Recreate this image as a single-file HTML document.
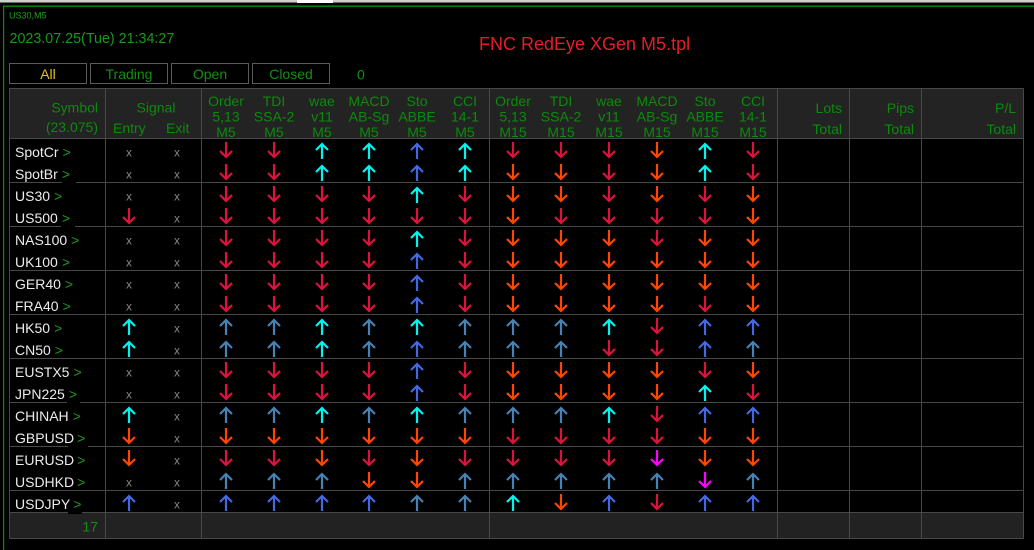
<!DOCTYPE html>
<html><head><meta charset="utf-8"><style>
html,body{margin:0;padding:0;background:#000;}
svg{display:block;font-family:"Liberation Sans",Arial,sans-serif;}
.a path{fill:none;stroke-width:2.2;stroke-linejoin:miter;}
.R{stroke:#dc143c}.O{stroke:#ff4500}.C{stroke:#00f5f0}.B{stroke:#4169e1}.S{stroke:#4682b4}.M{stroke:#ff00ff}
.hd{fill:#0b8a0b;font-size:14px}
.nm{fill:#ececec;font-size:14px}
.gt{fill:#1e9a1e}
.xx{fill:#858585;font-size:12px}
.bt{fill:#139013;font-size:14px}
</style></head><body>
<svg width="1034" height="550" viewBox="0 0 1034 550">
<rect x="0" y="0" width="1034" height="550" fill="#000"/>
<rect x="0" y="0" width="1034" height="2.5" fill="#cfcfcf"/>
<rect x="297" y="0" width="36" height="3" fill="#fff"/>
<rect x="3" y="5.5" width="1031" height="1.3" fill="#009a00"/>
<rect x="3" y="5.5" width="1.2" height="545" fill="#009a00"/>

<text x="9" y="18.5" font-size="9" fill="#17a017">US30,M5</text>
<text x="9.5" y="43" font-size="14.3" fill="#199819">2023.07.25(Tue) 21:34:27</text>
<text x="479" y="50" font-size="18" fill="#e31e26">FNC RedEye XGen M5.tpl</text>

<g fill="#000" stroke="#5a5a5a" stroke-width="1">
<rect x="9.5" y="63.5" width="77" height="20"/>
<rect x="90.5" y="63.5" width="77" height="20"/>
<rect x="171.5" y="63.5" width="77" height="20"/>
<rect x="252.5" y="63.5" width="77" height="20"/>
</g>
<text x="48" y="79" font-size="14" fill="#eac412" text-anchor="middle">All</text>
<text class="bt" x="129" y="79" text-anchor="middle">Trading</text>
<text class="bt" x="210" y="79" text-anchor="middle">Open</text>
<text class="bt" x="291" y="79" text-anchor="middle">Closed</text>
<text class="bt" x="357" y="79.5">0</text>

<rect x="9.5" y="88.5" width="1014" height="50" fill="#232323"/>
<rect x="9.5" y="512.5" width="1014" height="26" fill="#222"/>

<g stroke="#484848" stroke-width="1">
<line x1="9.5" y1="88.5" x2="1023.5" y2="88.5"/>
<line x1="9.5" y1="138.5" x2="1023.5" y2="138.5"/>
<line x1="9.5" y1="182.5" x2="1023.5" y2="182.5"/>
<line x1="9.5" y1="226.5" x2="1023.5" y2="226.5"/>
<line x1="9.5" y1="270.5" x2="1023.5" y2="270.5"/>
<line x1="9.5" y1="314.5" x2="1023.5" y2="314.5"/>
<line x1="9.5" y1="358.5" x2="1023.5" y2="358.5"/>
<line x1="9.5" y1="402.5" x2="1023.5" y2="402.5"/>
<line x1="9.5" y1="446.5" x2="1023.5" y2="446.5"/>
<line x1="9.5" y1="490.5" x2="1023.5" y2="490.5"/>
<line x1="9.5" y1="512.5" x2="1023.5" y2="512.5"/>
<line x1="9.5" y1="538.5" x2="1023.5" y2="538.5"/>
<line x1="9.5" y1="88.5" x2="9.5" y2="538.5"/>
<line x1="105.5" y1="88.5" x2="105.5" y2="538.5"/>
<line x1="201.5" y1="88.5" x2="201.5" y2="538.5"/>
<line x1="489.5" y1="88.5" x2="489.5" y2="538.5"/>
<line x1="777.5" y1="88.5" x2="777.5" y2="538.5"/>
<line x1="849.5" y1="88.5" x2="849.5" y2="538.5"/>
<line x1="921.5" y1="88.5" x2="921.5" y2="538.5"/>
<line x1="1023.5" y1="88.5" x2="1023.5" y2="538.5"/>
</g>

<!-- header -->
<text class="hd" x="98" y="112.5" text-anchor="end">Symbol</text>
<text class="hd" x="98" y="132" text-anchor="end" font-size="12">(23.075)</text>
<text class="hd" x="156" y="112.5" text-anchor="middle">Signal</text>
<text class="hd" x="113" y="133">Entry</text>
<text class="hd" x="166" y="133">Exit</text>
<g class="hd" text-anchor="middle">
<text><tspan x="226" y="106">Order</tspan><tspan x="226" y="121.5">5,13</tspan><tspan x="226" y="137">M5</tspan></text>
<text><tspan x="274" y="106">TDI</tspan><tspan x="274" y="121.5">SSA-2</tspan><tspan x="274" y="137">M5</tspan></text>
<text><tspan x="322" y="106">wae</tspan><tspan x="322" y="121.5">v11</tspan><tspan x="322" y="137">M5</tspan></text>
<text><tspan x="369" y="106">MACD</tspan><tspan x="369" y="121.5">AB-Sg</tspan><tspan x="369" y="137">M5</tspan></text>
<text><tspan x="417" y="106">Sto</tspan><tspan x="417" y="121.5">ABBE</tspan><tspan x="417" y="137">M5</tspan></text>
<text><tspan x="465" y="106">CCI</tspan><tspan x="465" y="121.5">14-1</tspan><tspan x="465" y="137">M5</tspan></text>
<text><tspan x="513" y="106">Order</tspan><tspan x="513" y="121.5">5,13</tspan><tspan x="513" y="137">M15</tspan></text>
<text><tspan x="561" y="106">TDI</tspan><tspan x="561" y="121.5">SSA-2</tspan><tspan x="561" y="137">M15</tspan></text>
<text><tspan x="609" y="106">wae</tspan><tspan x="609" y="121.5">v11</tspan><tspan x="609" y="137">M15</tspan></text>
<text><tspan x="657" y="106">MACD</tspan><tspan x="657" y="121.5">AB-Sg</tspan><tspan x="657" y="137">M15</tspan></text>
<text><tspan x="705" y="106">Sto</tspan><tspan x="705" y="121.5">ABBE</tspan><tspan x="705" y="137">M15</tspan></text>
<text><tspan x="753" y="106">CCI</tspan><tspan x="753" y="121.5">14-1</tspan><tspan x="753" y="137">M15</tspan></text>
</g>
<g class="hd" text-anchor="end">
<text x="842" y="113">Lots</text><text x="842" y="134">Total</text>
<text x="914" y="113">Pips</text><text x="914" y="134">Total</text>
<text x="1016" y="113">P/L</text><text x="1016" y="134">Total</text>
</g>

<!-- gaps under > labels -->
<g fill="#000">
<rect x="62" y="181" width="14" height="3"/>
<rect x="61" y="225" width="14" height="3"/>
<rect x="67" y="401" width="13" height="3"/>
<rect x="68" y="445" width="20" height="3"/>
<rect x="68" y="511" width="14" height="3"/>
</g>

<!-- symbols -->
<g class="nm">
<text x="15" y="157">SpotCr<tspan class="gt" dx="4">&gt;</tspan></text>
<text x="15" y="179">SpotBr<tspan class="gt" dx="4">&gt;</tspan></text>
<text x="15" y="201">US30<tspan class="gt" dx="4">&gt;</tspan></text>
<text x="15" y="223">US500<tspan class="gt" dx="4">&gt;</tspan></text>
<text x="15" y="245">NAS100<tspan class="gt" dx="4">&gt;</tspan></text>
<text x="15" y="267">UK100<tspan class="gt" dx="4">&gt;</tspan></text>
<text x="15" y="289">GER40<tspan class="gt" dx="4">&gt;</tspan></text>
<text x="15" y="311">FRA40<tspan class="gt" dx="4">&gt;</tspan></text>
<text x="15" y="333">HK50<tspan class="gt" dx="4">&gt;</tspan></text>
<text x="15" y="355">CN50<tspan class="gt" dx="4">&gt;</tspan></text>
<text x="15" y="377">EUSTX5<tspan class="gt" dx="4">&gt;</tspan></text>
<text x="15" y="399">JPN225<tspan class="gt" dx="4">&gt;</tspan></text>
<text x="15" y="421">CHINAH<tspan class="gt" dx="4">&gt;</tspan></text>
<text x="15" y="443">GBPUSD<tspan class="gt" dx="3">&gt;</tspan></text>
<text x="15" y="465">EURUSD<tspan class="gt" dx="3">&gt;</tspan></text>
<text x="15" y="487">USDHKD<tspan class="gt" dx="3">&gt;</tspan></text>
<text x="15" y="509">USDJPY<tspan class="gt" dx="3">&gt;</tspan></text>
</g>
<text x="98" y="531.5" font-size="14" fill="#178a17" text-anchor="end">17</text>

<!-- entry / exit x -->
<g class="xx" text-anchor="middle">
<text x="129" y="156.5">x</text><text x="177" y="156.5">x</text>
<text x="129" y="178.5">x</text><text x="177" y="178.5">x</text>
<text x="129" y="200.5">x</text><text x="177" y="200.5">x</text>
<text x="177" y="222.5">x</text>
<text x="129" y="244.5">x</text><text x="177" y="244.5">x</text>
<text x="129" y="266.5">x</text><text x="177" y="266.5">x</text>
<text x="129" y="288.5">x</text><text x="177" y="288.5">x</text>
<text x="129" y="310.5">x</text><text x="177" y="310.5">x</text>
<text x="177" y="332.5">x</text>
<text x="177" y="354.5">x</text>
<text x="129" y="376.5">x</text><text x="177" y="376.5">x</text>
<text x="129" y="398.5">x</text><text x="177" y="398.5">x</text>
<text x="177" y="420.5">x</text>
<text x="177" y="442.5">x</text>
<text x="177" y="464.5">x</text>
<text x="129" y="486.5">x</text><text x="177" y="486.5">x</text>
<text x="177" y="508.5">x</text>
</g>

<!-- arrows -->
<g class="a">
<!-- row0 t138 d142 u159 -->
<path class="R" d="M226 142v15m-6-6l6 6 6-6"/><path class="R" d="M274 142v15m-6-6l6 6 6-6"/>
<path class="C" d="M322 159v-15m-6 6l6-6 6 6"/><path class="C" d="M369 159v-15m-6 6l6-6 6 6"/>
<path class="B" d="M417 159v-15m-6 6l6-6 6 6"/><path class="C" d="M465 159v-15m-6 6l6-6 6 6"/>
<path class="R" d="M513 142v15m-6-6l6 6 6-6"/><path class="R" d="M561 142v15m-6-6l6 6 6-6"/>
<path class="R" d="M609 142v15m-6-6l6 6 6-6"/><path class="O" d="M657 142v15m-6-6l6 6 6-6"/>
<path class="C" d="M705 159v-15m-6 6l6-6 6 6"/><path class="R" d="M753 142v15m-6-6l6 6 6-6"/>
<!-- row1 t160 d164 u181 -->
<path class="R" d="M226 164v15m-6-6l6 6 6-6"/><path class="R" d="M274 164v15m-6-6l6 6 6-6"/>
<path class="C" d="M322 181v-15m-6 6l6-6 6 6"/><path class="C" d="M369 181v-15m-6 6l6-6 6 6"/>
<path class="B" d="M417 181v-15m-6 6l6-6 6 6"/><path class="C" d="M465 181v-15m-6 6l6-6 6 6"/>
<path class="O" d="M513 164v15m-6-6l6 6 6-6"/><path class="O" d="M561 164v15m-6-6l6 6 6-6"/>
<path class="R" d="M609 164v15m-6-6l6 6 6-6"/><path class="O" d="M657 164v15m-6-6l6 6 6-6"/>
<path class="C" d="M705 181v-15m-6 6l6-6 6 6"/><path class="R" d="M753 164v15m-6-6l6 6 6-6"/>
<!-- row2 t182 d186 u203 -->
<path class="R" d="M226 186v15m-6-6l6 6 6-6"/><path class="R" d="M274 186v15m-6-6l6 6 6-6"/>
<path class="R" d="M322 186v15m-6-6l6 6 6-6"/><path class="R" d="M369 186v15m-6-6l6 6 6-6"/>
<path class="C" d="M417 203v-15m-6 6l6-6 6 6"/><path class="R" d="M465 186v15m-6-6l6 6 6-6"/>
<path class="O" d="M513 186v15m-6-6l6 6 6-6"/><path class="O" d="M561 186v15m-6-6l6 6 6-6"/>
<path class="R" d="M609 186v15m-6-6l6 6 6-6"/><path class="O" d="M657 186v15m-6-6l6 6 6-6"/>
<path class="R" d="M705 186v15m-6-6l6 6 6-6"/><path class="O" d="M753 186v15m-6-6l6 6 6-6"/>
<!-- row3 t204 d208 u225 -->
<path class="R" d="M129 208v15m-6-6l6 6 6-6"/>
<path class="R" d="M226 208v15m-6-6l6 6 6-6"/><path class="R" d="M274 208v15m-6-6l6 6 6-6"/>
<path class="R" d="M322 208v15m-6-6l6 6 6-6"/><path class="R" d="M369 208v15m-6-6l6 6 6-6"/>
<path class="R" d="M417 208v15m-6-6l6 6 6-6"/><path class="R" d="M465 208v15m-6-6l6 6 6-6"/>
<path class="O" d="M513 208v15m-6-6l6 6 6-6"/><path class="R" d="M561 208v15m-6-6l6 6 6-6"/>
<path class="R" d="M609 208v15m-6-6l6 6 6-6"/><path class="R" d="M657 208v15m-6-6l6 6 6-6"/>
<path class="R" d="M705 208v15m-6-6l6 6 6-6"/><path class="O" d="M753 208v15m-6-6l6 6 6-6"/>
<!-- row4 t226 d230 u247 -->
<path class="R" d="M226 230v15m-6-6l6 6 6-6"/><path class="R" d="M274 230v15m-6-6l6 6 6-6"/>
<path class="R" d="M322 230v15m-6-6l6 6 6-6"/><path class="R" d="M369 230v15m-6-6l6 6 6-6"/>
<path class="C" d="M417 247v-15m-6 6l6-6 6 6"/><path class="R" d="M465 230v15m-6-6l6 6 6-6"/>
<path class="O" d="M513 230v15m-6-6l6 6 6-6"/><path class="O" d="M561 230v15m-6-6l6 6 6-6"/>
<path class="O" d="M609 230v15m-6-6l6 6 6-6"/><path class="R" d="M657 230v15m-6-6l6 6 6-6"/>
<path class="O" d="M705 230v15m-6-6l6 6 6-6"/><path class="O" d="M753 230v15m-6-6l6 6 6-6"/>
<!-- row5 t248 d252 u269 -->
<path class="R" d="M226 252v15m-6-6l6 6 6-6"/><path class="R" d="M274 252v15m-6-6l6 6 6-6"/>
<path class="R" d="M322 252v15m-6-6l6 6 6-6"/><path class="R" d="M369 252v15m-6-6l6 6 6-6"/>
<path class="B" d="M417 269v-15m-6 6l6-6 6 6"/><path class="R" d="M465 252v15m-6-6l6 6 6-6"/>
<path class="O" d="M513 252v15m-6-6l6 6 6-6"/><path class="O" d="M561 252v15m-6-6l6 6 6-6"/>
<path class="O" d="M609 252v15m-6-6l6 6 6-6"/><path class="O" d="M657 252v15m-6-6l6 6 6-6"/>
<path class="O" d="M705 252v15m-6-6l6 6 6-6"/><path class="O" d="M753 252v15m-6-6l6 6 6-6"/>
<!-- row6 t270 d274 u291 -->
<path class="R" d="M226 274v15m-6-6l6 6 6-6"/><path class="R" d="M274 274v15m-6-6l6 6 6-6"/>
<path class="R" d="M322 274v15m-6-6l6 6 6-6"/><path class="R" d="M369 274v15m-6-6l6 6 6-6"/>
<path class="B" d="M417 291v-15m-6 6l6-6 6 6"/><path class="R" d="M465 274v15m-6-6l6 6 6-6"/>
<path class="O" d="M513 274v15m-6-6l6 6 6-6"/><path class="O" d="M561 274v15m-6-6l6 6 6-6"/>
<path class="O" d="M609 274v15m-6-6l6 6 6-6"/><path class="O" d="M657 274v15m-6-6l6 6 6-6"/>
<path class="O" d="M705 274v15m-6-6l6 6 6-6"/><path class="O" d="M753 274v15m-6-6l6 6 6-6"/>
<!-- row7 t292 d296 u313 -->
<path class="R" d="M226 296v15m-6-6l6 6 6-6"/><path class="R" d="M274 296v15m-6-6l6 6 6-6"/>
<path class="R" d="M322 296v15m-6-6l6 6 6-6"/><path class="R" d="M369 296v15m-6-6l6 6 6-6"/>
<path class="B" d="M417 313v-15m-6 6l6-6 6 6"/><path class="R" d="M465 296v15m-6-6l6 6 6-6"/>
<path class="O" d="M513 296v15m-6-6l6 6 6-6"/><path class="O" d="M561 296v15m-6-6l6 6 6-6"/>
<path class="O" d="M609 296v15m-6-6l6 6 6-6"/><path class="O" d="M657 296v15m-6-6l6 6 6-6"/>
<path class="R" d="M705 296v15m-6-6l6 6 6-6"/><path class="O" d="M753 296v15m-6-6l6 6 6-6"/>
<!-- row8 t314 d318 u335 -->
<path class="C" d="M129 335v-15m-6 6l6-6 6 6"/>
<path class="S" d="M226 335v-15m-6 6l6-6 6 6"/><path class="S" d="M274 335v-15m-6 6l6-6 6 6"/>
<path class="C" d="M322 335v-15m-6 6l6-6 6 6"/><path class="S" d="M369 335v-15m-6 6l6-6 6 6"/>
<path class="C" d="M417 335v-15m-6 6l6-6 6 6"/><path class="S" d="M465 335v-15m-6 6l6-6 6 6"/>
<path class="S" d="M513 335v-15m-6 6l6-6 6 6"/><path class="S" d="M561 335v-15m-6 6l6-6 6 6"/>
<path class="C" d="M609 335v-15m-6 6l6-6 6 6"/><path class="R" d="M657 318v15m-6-6l6 6 6-6"/>
<path class="B" d="M705 335v-15m-6 6l6-6 6 6"/><path class="B" d="M753 335v-15m-6 6l6-6 6 6"/>
<!-- row9 t336 d340 u357 -->
<path class="C" d="M129 357v-15m-6 6l6-6 6 6"/>
<path class="S" d="M226 357v-15m-6 6l6-6 6 6"/><path class="S" d="M274 357v-15m-6 6l6-6 6 6"/>
<path class="C" d="M322 357v-15m-6 6l6-6 6 6"/><path class="S" d="M369 357v-15m-6 6l6-6 6 6"/>
<path class="B" d="M417 357v-15m-6 6l6-6 6 6"/><path class="S" d="M465 357v-15m-6 6l6-6 6 6"/>
<path class="S" d="M513 357v-15m-6 6l6-6 6 6"/><path class="S" d="M561 357v-15m-6 6l6-6 6 6"/>
<path class="R" d="M609 340v15m-6-6l6 6 6-6"/><path class="R" d="M657 340v15m-6-6l6 6 6-6"/>
<path class="B" d="M705 357v-15m-6 6l6-6 6 6"/><path class="S" d="M753 357v-15m-6 6l6-6 6 6"/>
<!-- row10 t358 d362 u379 -->
<path class="R" d="M226 362v15m-6-6l6 6 6-6"/><path class="R" d="M274 362v15m-6-6l6 6 6-6"/>
<path class="R" d="M322 362v15m-6-6l6 6 6-6"/><path class="R" d="M369 362v15m-6-6l6 6 6-6"/>
<path class="B" d="M417 379v-15m-6 6l6-6 6 6"/><path class="R" d="M465 362v15m-6-6l6 6 6-6"/>
<path class="O" d="M513 362v15m-6-6l6 6 6-6"/><path class="O" d="M561 362v15m-6-6l6 6 6-6"/>
<path class="O" d="M609 362v15m-6-6l6 6 6-6"/><path class="O" d="M657 362v15m-6-6l6 6 6-6"/>
<path class="R" d="M705 362v15m-6-6l6 6 6-6"/><path class="O" d="M753 362v15m-6-6l6 6 6-6"/>
<!-- row11 t380 d384 u401 -->
<path class="R" d="M226 384v15m-6-6l6 6 6-6"/><path class="R" d="M274 384v15m-6-6l6 6 6-6"/>
<path class="R" d="M322 384v15m-6-6l6 6 6-6"/><path class="R" d="M369 384v15m-6-6l6 6 6-6"/>
<path class="B" d="M417 401v-15m-6 6l6-6 6 6"/><path class="R" d="M465 384v15m-6-6l6 6 6-6"/>
<path class="O" d="M513 384v15m-6-6l6 6 6-6"/><path class="O" d="M561 384v15m-6-6l6 6 6-6"/>
<path class="O" d="M609 384v15m-6-6l6 6 6-6"/><path class="O" d="M657 384v15m-6-6l6 6 6-6"/>
<path class="C" d="M705 401v-15m-6 6l6-6 6 6"/><path class="R" d="M753 384v15m-6-6l6 6 6-6"/>
<!-- row12 t402 d406 u423 -->
<path class="C" d="M129 423v-15m-6 6l6-6 6 6"/>
<path class="S" d="M226 423v-15m-6 6l6-6 6 6"/><path class="S" d="M274 423v-15m-6 6l6-6 6 6"/>
<path class="C" d="M322 423v-15m-6 6l6-6 6 6"/><path class="S" d="M369 423v-15m-6 6l6-6 6 6"/>
<path class="C" d="M417 423v-15m-6 6l6-6 6 6"/><path class="S" d="M465 423v-15m-6 6l6-6 6 6"/>
<path class="S" d="M513 423v-15m-6 6l6-6 6 6"/><path class="S" d="M561 423v-15m-6 6l6-6 6 6"/>
<path class="C" d="M609 423v-15m-6 6l6-6 6 6"/><path class="R" d="M657 406v15m-6-6l6 6 6-6"/>
<path class="B" d="M705 423v-15m-6 6l6-6 6 6"/><path class="B" d="M753 423v-15m-6 6l6-6 6 6"/>
<!-- row13 t424 d428 u445 -->
<path class="O" d="M129 428v15m-6-6l6 6 6-6"/>
<path class="O" d="M226 428v15m-6-6l6 6 6-6"/><path class="O" d="M274 428v15m-6-6l6 6 6-6"/>
<path class="O" d="M322 428v15m-6-6l6 6 6-6"/><path class="O" d="M369 428v15m-6-6l6 6 6-6"/>
<path class="O" d="M417 428v15m-6-6l6 6 6-6"/><path class="O" d="M465 428v15m-6-6l6 6 6-6"/>
<path class="R" d="M513 428v15m-6-6l6 6 6-6"/><path class="R" d="M561 428v15m-6-6l6 6 6-6"/>
<path class="R" d="M609 428v15m-6-6l6 6 6-6"/><path class="R" d="M657 428v15m-6-6l6 6 6-6"/>
<path class="O" d="M705 428v15m-6-6l6 6 6-6"/><path class="O" d="M753 428v15m-6-6l6 6 6-6"/>
<!-- row14 t446 d450 u467 -->
<path class="O" d="M129 450v15m-6-6l6 6 6-6"/>
<path class="R" d="M226 450v15m-6-6l6 6 6-6"/><path class="R" d="M274 450v15m-6-6l6 6 6-6"/>
<path class="O" d="M322 450v15m-6-6l6 6 6-6"/><path class="R" d="M369 450v15m-6-6l6 6 6-6"/>
<path class="O" d="M417 450v15m-6-6l6 6 6-6"/><path class="R" d="M465 450v15m-6-6l6 6 6-6"/>
<path class="R" d="M513 450v15m-6-6l6 6 6-6"/><path class="R" d="M561 450v15m-6-6l6 6 6-6"/>
<path class="R" d="M609 450v15m-6-6l6 6 6-6"/><path class="M" d="M657 450v15m-6-6l6 6 6-6"/>
<path class="O" d="M705 450v15m-6-6l6 6 6-6"/><path class="O" d="M753 450v15m-6-6l6 6 6-6"/>
<!-- row15 t468 d472 u489 -->
<path class="S" d="M226 489v-15m-6 6l6-6 6 6"/><path class="S" d="M274 489v-15m-6 6l6-6 6 6"/>
<path class="S" d="M322 489v-15m-6 6l6-6 6 6"/><path class="O" d="M369 472v15m-6-6l6 6 6-6"/>
<path class="O" d="M417 472v15m-6-6l6 6 6-6"/><path class="S" d="M465 489v-15m-6 6l6-6 6 6"/>
<path class="S" d="M513 489v-15m-6 6l6-6 6 6"/><path class="S" d="M561 489v-15m-6 6l6-6 6 6"/>
<path class="S" d="M609 489v-15m-6 6l6-6 6 6"/><path class="S" d="M657 489v-15m-6 6l6-6 6 6"/>
<path class="M" d="M705 472v15m-6-6l6 6 6-6"/><path class="S" d="M753 489v-15m-6 6l6-6 6 6"/>
<!-- row16 t490 d494 u511 -->
<path class="B" d="M129 511v-15m-6 6l6-6 6 6"/>
<path class="B" d="M226 511v-15m-6 6l6-6 6 6"/><path class="B" d="M274 511v-15m-6 6l6-6 6 6"/>
<path class="B" d="M322 511v-15m-6 6l6-6 6 6"/><path class="B" d="M369 511v-15m-6 6l6-6 6 6"/>
<path class="S" d="M417 511v-15m-6 6l6-6 6 6"/><path class="S" d="M465 511v-15m-6 6l6-6 6 6"/>
<path class="C" d="M513 511v-15m-6 6l6-6 6 6"/><path class="O" d="M561 494v15m-6-6l6 6 6-6"/>
<path class="B" d="M609 511v-15m-6 6l6-6 6 6"/><path class="R" d="M657 494v15m-6-6l6 6 6-6"/>
<path class="B" d="M705 511v-15m-6 6l6-6 6 6"/><path class="B" d="M753 511v-15m-6 6l6-6 6 6"/>
</g>
</svg>
</body></html>
